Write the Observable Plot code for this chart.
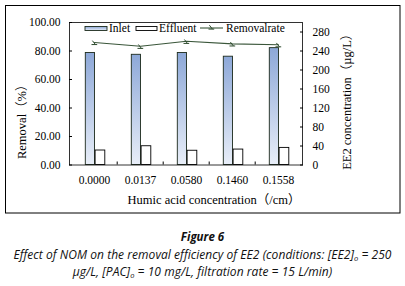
<!DOCTYPE html>
<html><head><meta charset="utf-8">
<script src="https://cdn.jsdelivr.net/npm/d3@7"></script>
<script src="https://cdn.jsdelivr.net/npm/@observablehq/plot@0.6"></script>
<style>
body{margin:0;background:#fff;}
#wrap{position:relative;width:405px;height:286px;overflow:hidden;}
#chart{position:absolute;left:0;top:0;}
#cap{position:absolute;left:0;top:228px;width:405px;text-align:center;font-family:"Open Sans","Noto Sans",sans-serif;font-style:italic;font-size:12px;line-height:17.5px;color:#111;letter-spacing:0.05px;}
#cap .t{font-weight:bold;font-size:11.5px;letter-spacing:0;}
#cap sub{font-size:7.5px;line-height:0;vertical-align:-2px;}
</style></head><body>
<div id="wrap"><div id="chart"></div>
<div id="cap"><div class="t">Figure 6</div>
<div>Effect of NOM on the removal efficiency of EE2 (conditions: [EE2]<sub>o</sub> = 250</div>
<div>µg/L, [PAC]<sub>o</sub> = 10 mg/L, filtration rate = 15 L/min)</div></div>
</div>
<script>
const categories = ["0.0000", "0.0137", "0.0580", "0.1460", "0.1558"];
const inlet = [235.7, 232, 235.7, 228, 246];
const effluent = [30.5, 39.5, 30, 32.5, 36];
const removal = [86.0, 83.3, 86.8, 85.0, 84.4];
const leftTicks = [0, 20, 40, 60, 80, 100];
const rightTicks = [0, 40, 80, 120, 160, 200, 240, 280];
const seriesNames = ["Inlet", "Effluent", "Removalrate"];
const xLabel = "Humic acid concentration（/cm）";
const yLeftLabel = "Removal（%）";
const yRightLabel = "EE2 concentration（µg/L）";

const K = 3; // 100 % on the left axis ↔ 300 µg/L on the right axis
const data = categories.map((c, i) => ({c, inlet: inlet[i], effluent: effluent[i], removal: removal[i]}));
const serif = "'Liberation Serif','Times New Roman','Noto Sans CJK SC',serif";

const markSym = {
  draw(ctx, size) {
    const s = Math.sqrt(size / Math.PI);
    ctx.moveTo(-s, s * 0.7); ctx.lineTo(s * 0.9, s * 0.7);
    ctx.moveTo(-s * 0.7, -s * 0.6); ctx.lineTo(s * 0.3, s * 0.7);
  }
};

const defs = () => {
  const g = d3.create("svg:defs");
  const lg = g.append("linearGradient").attr("id", "inletGrad").attr("x1", 0).attr("y1", 0).attr("x2", 0).attr("y2", 1);
  lg.append("stop").attr("offset", "0%").attr("stop-color", "#8da8d8");
  lg.append("stop").attr("offset", "100%").attr("stop-color", "#e8eef8");
  return g.node();
};

const plot = Plot.plot({
  width: 405, height: 220,
  marginLeft: 69, marginRight: 103, marginTop: 22, marginBottom: 55.5,
  style: {fontFamily: serif, fontSize: "11.5px", color: "#000", background: "transparent"},
  x: {type: "band", domain: categories, padding: 0},
  y: {domain: [0, 300]},
  marks: [
    defs,
    Plot.barY(data, {x: "c", y: "inlet", fill: "url(#inletGrad)", stroke: "#1c2a1c", strokeWidth: 0.9, insetLeft: 14.3, insetRight: 22.5}),
    Plot.barY(data, {x: "c", y: "effluent", fill: "#fff", stroke: "#000", strokeWidth: 0.9, insetLeft: 24.1, insetRight: 12.2}),
    Plot.line(data, {x: "c", y: d => d.removal * K, stroke: "#3a563a", strokeWidth: 1.1}),
    Plot.dot(data, {x: "c", y: d => d.removal * K, symbol: markSym, r: 3, stroke: "#2d4a2d", fill: "none", strokeWidth: 1}),
    Plot.frame({stroke: "#000", strokeWidth: 0.8}),
    Plot.axisY({anchor: "left", ticks: leftTicks.map(v => v * K), tickFormat: d => (d / K).toFixed(2), tickSize: -3, tickPadding: 12, label: null}),
    Plot.axisY({anchor: "right", ticks: rightTicks, tickFormat: d => String(d), tickSize: -3, tickPadding: 13, label: null}),
    Plot.axisX({ticks: categories, tickSize: 0, tickPadding: 11, label: null}),
    Plot.axisX({ticks: categories.slice(1), tickSize: -3, dx: -23.3, fill: "none", label: null}),
    Plot.text([xLabel], {frameAnchor: "bottom", textAnchor: "middle", lineAnchor: "middle", dx: 28, dy: 35, fontSize: 12.5, text: d => d}),
    Plot.text([yLeftLabel], {frameAnchor: "left", textAnchor: "middle", lineAnchor: "middle", dx: -48, dy: 25, rotate: -90, fontSize: 12.5, text: d => d}),
    Plot.text([yRightLabel], {frameAnchor: "right", textAnchor: "middle", lineAnchor: "middle", dx: 44, dy: 5, rotate: -90, fontSize: 12.5, text: d => d})
  ]
});
document.getElementById("chart").appendChild(plot);

// outer chart-area border and in-plot legend
const svg = d3.select(plot);
svg.append("rect").attr("x", 5.5).attr("y", 5.5).attr("width", 394.5).attr("height", 207.5)
  .attr("fill", "none").attr("stroke", "#000").attr("stroke-width", 1);
const lg = svg.append("g").attr("font-family", serif).attr("font-size", 11.5).attr("text-anchor", "start");
lg.append("rect").attr("x", 85).attr("y", 26.5).attr("width", 22).attr("height", 4)
  .attr("fill", "url(#inletGrad)").attr("stroke", "#1c2a1c").attr("stroke-width", 0.9);
lg.append("text").attr("x", 109).attr("y", 32).text(seriesNames[0]);
lg.append("rect").attr("x", 136).attr("y", 26.5).attr("width", 21).attr("height", 4)
  .attr("fill", "#fff").attr("stroke", "#000").attr("stroke-width", 0.9);
lg.append("text").attr("x", 159).attr("y", 32).text(seriesNames[1]);
lg.append("line").attr("x1", 200).attr("x2", 223).attr("y1", 28).attr("y2", 28).attr("stroke", "#3a563a").attr("stroke-width", 1.1);
lg.append("path").attr("transform", "translate(211.5,27)").attr("d", d3.symbol().type(markSym).size(9 * Math.PI)())
  .attr("fill", "none").attr("stroke", "#2d4a2d");
lg.append("text").attr("x", 226).attr("y", 32).text(seriesNames[2]);
</script>
</body></html>
